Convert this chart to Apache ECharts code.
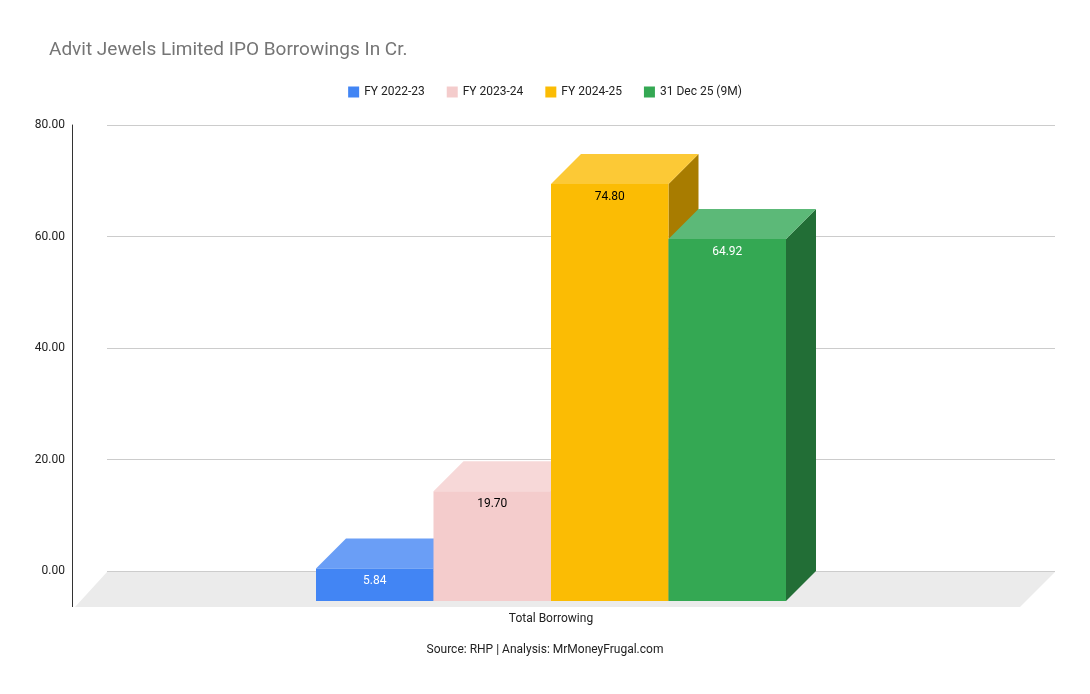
<!DOCTYPE html>
<html><head><meta charset="utf-8">
<script src="https://cdn.jsdelivr.net/npm/echarts@6/dist/echarts.min.js"></script>
<style>html,body{margin:0;background:#fff}#c{width:1090px;height:694px}</style>
</head><body><div id="c"></div>
<script>
const categories = ['Total Borrowing'];
const seriesNames = ['FY 2022-23', 'FY 2023-24', 'FY 2024-25', '31 Dec 25 (9M)'];
const seriesValues = [5.84, 19.70, 74.80, 64.92];
const yTicks = [0, 20, 40, 60, 80];

// front, top, side colours; label colour
const faces = [
  ['#4285f4', '#6a9ef6', '#2f5fae', '#fff'],
  ['#f4cccc', '#f7d8d8', '#ad9191', '#000'],
  ['#fbbc04', '#fcc936', '#a87c00', '#000'],
  ['#34a853', '#5cb978', '#226e36', '#fff']
];
const D = 30;        // depth offset
const BW = 117.5;    // bar width

const chart = echarts.init(document.getElementById('c'));

function makeRender(i) {
  return function (params, api) {
    const base = api.coord([0, 0]);
    const top = api.coord([0, api.value(1)]);
    const x0 = base[0] - D + (i - 2) * BW, x1 = x0 + BW;
    const yb = base[1] + D, yt = top[1] + D;
    const c = faces[i];
    return {
      type: 'group',
      children: [
        { type: 'polygon', shape: { points: [[x1, yt], [x1 + D, yt - D], [x1 + D, yb - D], [x1, yb]] }, style: { fill: c[2] } },
        { type: 'polygon', shape: { points: [[x0, yt], [x0 + D, yt - D], [x1 + D, yt - D], [x1, yt]] }, style: { fill: c[1] } },
        { type: 'rect', shape: { x: x0, y: yt, width: BW, height: yb - yt }, style: { fill: c[0] } },
        { type: 'text', x: (x0 + x1) / 2, y: yt + 13, style: { text: api.value(1).toFixed(2), fill: c[3], font: '12px Roboto, Arial', align: 'center', verticalAlign: 'middle' } }
      ]
    };
  };
}

chart.setOption({
  animation: false,
  title: { text: 'Advit Jewels Limited IPO Borrowings In Cr.', left: 44, top: 36,
    textStyle: { fontSize: 19, fontWeight: 'normal', color: '#757575', fontFamily: 'Roboto, Arial' } },
  legend: { top: 81, left: 'center', itemWidth: 11, itemHeight: 11, itemGap: 22, icon: 'rect',
    textStyle: { fontSize: 12, color: '#222', fontFamily: 'Roboto, Arial' },
    data: seriesNames.map((n, i) => ({ name: n, itemStyle: { color: faces[i][0] } })) },
  grid: { left: 107, right: 35, top: 125, bottom: 123 },
  xAxis: { type: 'category', data: categories,
    axisLine: { show: false }, axisTick: { show: false },
    axisLabel: { margin: 42, padding: [0, 60, 0, 0], fontSize: 12, color: '#222', fontFamily: 'Roboto, Arial' } },
  yAxis: { type: 'value', min: 0, max: 80, interval: 20, offset: 35,
    axisLine: { show: true, lineStyle: { color: '#333' } },
    axisLabel: { formatter: v => yTicks.includes(v) ? v.toFixed(2) : '', fontSize: 12, color: '#222', margin: 7, fontFamily: 'Roboto, Arial' },
    splitLine: { lineStyle: { color: '#ccc' } } },
  graphic: [
    { type: 'polygon', z: 0, shape: { points: [[107, 572], [1055, 572], [1020, 607], [75, 607]] }, style: { fill: '#ebebeb' } },
    { type: 'line', z: 0, shape: { x1: 107, y1: 571.5, x2: 1055, y2: 571.5 }, style: { stroke: '#333', lineWidth: 1 } },
    { type: 'line', shape: { x1: 72.5, y1: 571, x2: 72.5, y2: 607 }, style: { stroke: '#333', lineWidth: 1 } },
    { type: 'text', left: 'center', top: 644, x: 0, style: { text: 'Source: RHP | Analysis: MrMoneyFrugal.com', font: '12px Roboto, Arial', fill: '#222' } }
  ],
  series: seriesNames.map((n, i) => ({
    name: n, type: 'custom', z: 2 + i, itemStyle: { color: faces[i][0] },
    renderItem: makeRender(i), data: [[0, seriesValues[i]]]
  }))
});
</script></body></html>
